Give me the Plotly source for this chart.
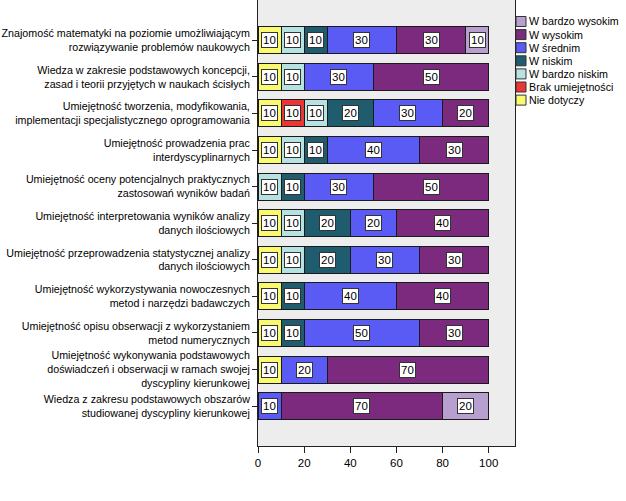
import plotly.graph_objects as go

categories = [
    "Znajomość matematyki na poziomie umożliwiającym<br>rozwiązywanie problemów naukowych",
    "Wiedza w zakresie podstawowych koncepcji,<br>zasad i teorii przyjętych w naukach ścisłych",
    "Umiejętność tworzenia, modyfikowania,<br>implementacji specjalistycznego oprogramowania",
    "Umiejętność prowadzenia prac<br>interdyscyplinarnych",
    "Umiejętność oceny potencjalnych praktycznych<br>zastosowań wyników badań",
    "Umiejętność interpretowania wyników analizy<br>danych ilościowych",
    "Umiejętność przeprowadzenia statystycznej analizy<br>danych ilościowych",
    "Umiejętność wykorzystywania nowoczesnych<br>metod i narzędzi badawczych",
    "Umiejętność opisu obserwacji z wykorzystaniem<br>metod numerycznych",
    "Umiejętność wykonywania podstawowych<br>doświadczeń i obserwacji w ramach swojej<br>dyscypliny kierunkowej",
    "Wiedza z zakresu podstawowych obszarów<br>studiowanej dyscypliny kierunkowej",
]

series_names = ["Nie dotyczy", "Brak umiejętności", "W bardzo niskim", "W niskim",
                "W średnim", "W wysokim", "W bardzo wysokim"]

nie_dotyczy      = [10, 10, 10, 10, 0, 10, 10, 10, 10, 10, 0]
brak             = [0, 0, 10, 0, 0, 0, 0, 0, 0, 0, 0]
w_bardzo_niskim  = [10, 10, 10, 10, 10, 10, 10, 0, 0, 0, 0]
w_niskim         = [10, 0, 20, 10, 10, 20, 20, 10, 10, 0, 0]
w_srednim        = [30, 30, 30, 40, 30, 20, 30, 40, 50, 20, 10]
w_wysokim        = [30, 50, 20, 30, 50, 40, 30, 40, 30, 70, 70]
w_bardzo_wysokim = [10, 0, 0, 0, 0, 0, 0, 0, 0, 0, 20]

series_values = [nie_dotyczy, brak, w_bardzo_niskim, w_niskim,
                 w_srednim, w_wysokim, w_bardzo_wysokim]

colors = ["#FAFA70", "#EE3535", "#B6E2E2", "#1E5C6E", "#5A5AF4", "#7B2A7E", "#B7A0D0"]

FONT = "Liberation Sans, Arial, sans-serif"
LBL = 10.7

fig = go.Figure()
annotations = []
cum = [0] * len(categories)
for name, vals, col in zip(series_names, series_values, colors):
    fig.add_trace(go.Bar(
        y=categories, x=vals, name=name, orientation="h",
        marker=dict(color=col, line=dict(color="#1a1a1a", width=1)),
        width=0.74, showlegend=False,
    ))
    for i, v in enumerate(vals):
        if v > 0:
            annotations.append(dict(
                x=cum[i] + v / 2, y=categories[i], xref="x", yref="y",
                text=str(v), showarrow=False,
                font=dict(family=FONT, size=11.5, color="black"),
                bgcolor="white", bordercolor="#333333", borderwidth=1, borderpad=1,
            ))
        cum[i] += v

# geometry for manual legend (pixels -> paper)
W, H = 626, 501
ml, mr, mt, mb = 258, 111, 0, 55
pw, ph = W - ml - mr, H - mt - mb
shapes = []
for k, (name, col) in enumerate(reversed(list(zip(series_names, colors)))):
    cy = 21.5 + k * 13.1
    x0 = (516 - ml) / pw
    x1 = (526 - ml) / pw
    y0 = (H - mb - (cy - 5)) / ph
    y1 = (H - mb - (cy + 5)) / ph
    shapes.append(dict(type="rect", xref="paper", yref="paper", x0=x0, x1=x1, y0=y0, y1=y1,
                       fillcolor=col, line=dict(color="#333333", width=1)))
    annotations.append(dict(x=(527 - ml) / pw, y=(H - mb - cy) / ph, xref="paper", yref="paper",
                            text=name, showarrow=False, xanchor="left", yanchor="middle",
                            font=dict(family=FONT, size=LBL, color="black")))

fig.update_layout(
    barmode="stack",
    width=W, height=H,
    margin=dict(l=ml, r=mr, t=mt, b=mb),
    paper_bgcolor="white",
    plot_bgcolor="#EDEDED",
    annotations=annotations,
    shapes=shapes,
    showlegend=False,
    font=dict(family=FONT, size=LBL, color="black"),
    xaxis=dict(range=[0, 111.4], tickvals=[0, 20, 40, 60, 80, 100], automargin=False,
               showgrid=False, zeroline=False, showline=True, linecolor="#222222",
               linewidth=1, ticks="outside", ticklen=6, tickcolor="#222222",
               tickfont=dict(family=FONT, size=11.5)),
    yaxis=dict(categoryorder="array", categoryarray=categories, automargin=False,
               range=[len(categories) - 1 + 1.09, -1.1],
               showgrid=False, zeroline=False, showline=True, mirror=True,
               linecolor="#222222", linewidth=1, ticks="outside", ticklen=5,
               tickcolor="#222222", tickfont=dict(family=FONT, size=LBL)),
)

fig.write_html("out.html", config={"displayModeBar": False},
               post_script="document.body.style.margin='0';")
